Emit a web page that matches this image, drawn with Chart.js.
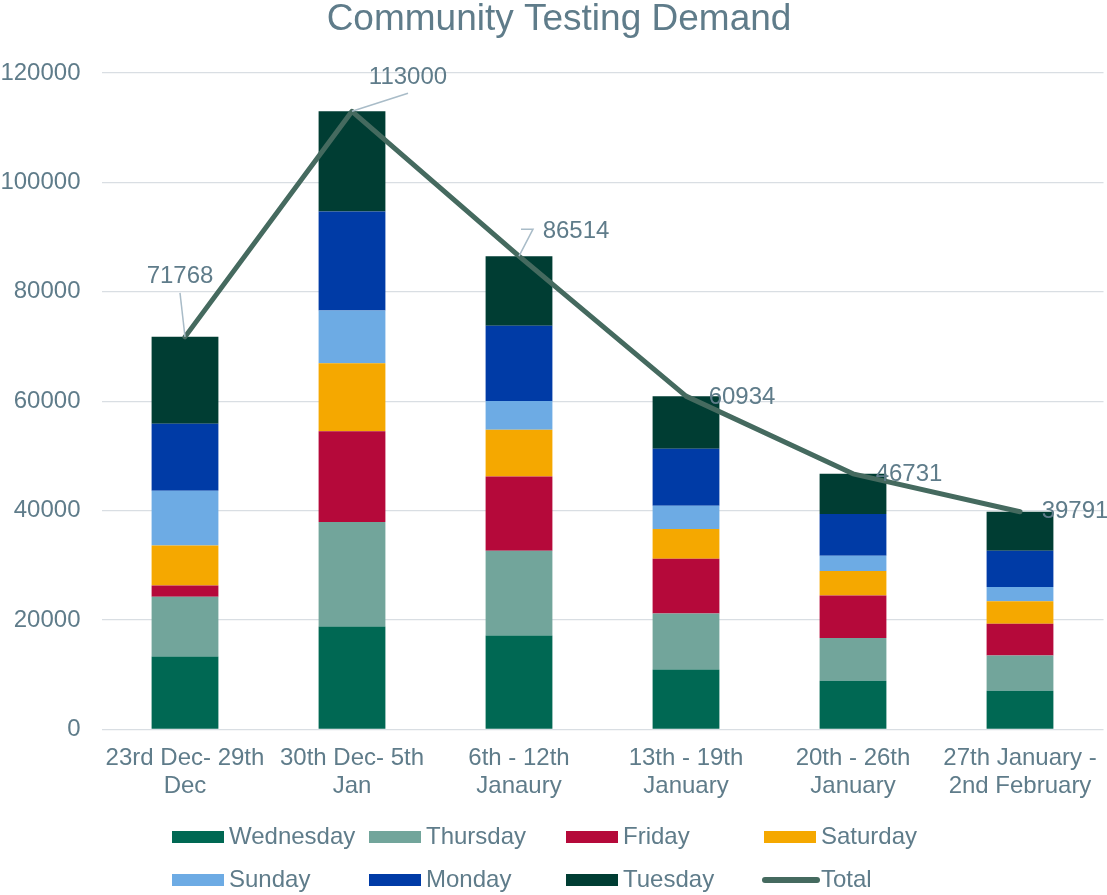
<!DOCTYPE html>
<html>
<head>
<meta charset="utf-8">
<script src="https://cdn.jsdelivr.net/npm/chart.js@4/dist/chart.umd.min.js"></script>
<style>
  html, body { margin: 0; padding: 0; background: #ffffff; }
  #wrap { width: 1107px; height: 895px; position: relative; }
</style>
</head>
<body>
<div id="wrap"><canvas id="c"></canvas></div>
<script>
// ---- data ----
const categories = [
  ["23rd Dec- 29th", "Dec"],
  ["30th Dec- 5th", "Jan"],
  ["6th - 12th", "Janaury"],
  ["13th - 19th", "January"],
  ["20th - 26th", "January"],
  ["27th January -", "2nd February"]
];
const wednesday = [13322, 18812, 17165, 10943, 8930, 7100];
const thursday  = [10925, 19106, 15501, 10248, 7815, 6405];
const friday    = [2068, 16579, 13596, 10011, 7740, 5802];
const saturday  = [7320, 12444, 8547, 5435, 4466, 4154];
const sunday    = [10011, 9645, 5252, 4264, 2800, 2562];
const monday    = [12261, 18117, 13725, 10431, 7631, 6643];
const tuesday   = [15861, 18297, 12728, 9602, 7349, 7125];
const total     = [71768, 113000, 86514, 60934, 46731, 39791];
const yTicks    = [0, 20000, 40000, 60000, 80000, 100000, 120000];
const chartTitle = "Community Testing Demand";

// ---- styles ----
const FONT = '"Liberation Sans", Arial, Helvetica, sans-serif';
const TEXT = '#5f7c8a';
const GRID = '#d9dee3';

const barSeries = [
  { label: 'Wednesday', data: wednesday, color: '#006853' },
  { label: 'Thursday',  data: thursday,  color: '#72a59b' },
  { label: 'Friday',    data: friday,    color: '#b5093a' },
  { label: 'Saturday',  data: saturday,  color: '#f5a800' },
  { label: 'Sunday',    data: sunday,    color: '#6dabe4' },
  { label: 'Monday',    data: monday,    color: '#003ba6' },
  { label: 'Tuesday',   data: tuesday,   color: '#003d33' }
];
const LINE_COLOR = '#456a5f';

const datasets = barSeries.map(s => ({
  type: 'bar',
  label: s.label,
  data: s.data,
  backgroundColor: s.color,
  borderWidth: 0,
  stack: 'days',
  order: 1,
  categoryPercentage: 0.8,
  barPercentage: 0.5
}));
datasets.push({
  type: 'line',
  label: 'Total',
  data: total,
  borderColor: LINE_COLOR,
  backgroundColor: LINE_COLOR,
  borderWidth: 5,
  pointRadius: 0,
  borderJoinStyle: 'round',
  borderCapStyle: 'round',
  stack: 'total',
  order: 0,
  tension: 0
});

// label placement relative to line points (style only)
const labelOffsets = [
  { dx: -5, dy: -60, leader: [[-5, -44]] },
  { dx: 56, dy: -34, leader: [[56, -18]] },
  { dx: 57, dy: -25, leader: [[14, -27], [2, -27]] },
  { dx: 56, dy: 1 },
  { dx: 56, dy: 1 },
  { dx: 55, dy: 0 }
];

const titlePlugin = {
  id: 'customTitle',
  afterDraw(chart) {
    const ctx = chart.ctx;
    ctx.save();
    ctx.font = '37px ' + FONT;
    ctx.fillStyle = TEXT;
    ctx.textAlign = 'center';
    ctx.textBaseline = 'middle';
    ctx.fillText(chartTitle, 559, 20);
    ctx.restore();
  }
};

const dataLabelPlugin = {
  id: 'totalLabels',
  afterDatasetsDraw(chart) {
    const idx = chart.data.datasets.findIndex(d => d.type === 'line');
    const meta = chart.getDatasetMeta(idx);
    const ctx = chart.ctx;
    ctx.save();
    meta.data.forEach((pt, i) => {
      const o = labelOffsets[i];
      if (o.leader) {
        ctx.beginPath();
        ctx.strokeStyle = '#a9bcc8';
        ctx.lineWidth = 1.5;
        ctx.moveTo(pt.x, pt.y);
        o.leader.forEach(p => ctx.lineTo(pt.x + p[0], pt.y + p[1]));
        ctx.stroke();
      }
      ctx.font = '24px ' + FONT;
      ctx.fillStyle = TEXT;
      ctx.textAlign = 'center';
      ctx.textBaseline = 'middle';
      ctx.fillText(String(chart.data.datasets[idx].data[i]), pt.x + o.dx, pt.y + o.dy);
    });
    ctx.restore();
  }
};

const legendPlugin = {
  id: 'gridLegend',
  afterDraw(chart) {
    const ctx = chart.ctx;
    const colX = [172, 369, 566, 764];
    const rowY = [837, 880];
    ctx.save();
    ctx.font = '24px ' + FONT;
    ctx.textBaseline = 'middle';
    ctx.textAlign = 'left';
    chart.data.datasets.forEach((ds, i) => {
      const x = colX[i % 4];
      const y = rowY[Math.floor(i / 4)];
      if (ds.type === 'line') {
        ctx.beginPath();
        ctx.strokeStyle = ds.borderColor;
        ctx.lineWidth = 6;
        ctx.lineCap = 'round';
        ctx.moveTo(x + 1, y);
        ctx.lineTo(x + 53, y);
        ctx.stroke();
      } else {
        ctx.fillStyle = ds.backgroundColor;
        ctx.fillRect(x, y - 6, 52, 12);
      }
      ctx.fillStyle = TEXT;
      ctx.fillText(ds.label, x + 57, y);
    });
    ctx.restore();
  }
};

new Chart(document.getElementById('c'), {
  data: { labels: categories, datasets },
  options: {
    responsive: true,
    maintainAspectRatio: false,
    animation: false,
    layout: { padding: { top: 73, left: 0, right: 3.5, bottom: 79.5 } },
    plugins: {
      legend: { display: false },
      title: { display: false },
      tooltip: { enabled: false }
    },
    scales: {
      x: {
        stacked: true,
        grid: { display: false, drawTicks: false },
        border: { display: false },
        afterFit(scale) { scale.paddingLeft = 0; scale.paddingRight = 0; },
        ticks: {
          color: TEXT,
          font: { family: FONT, size: 24, lineHeight: 1.167 },
          padding: 15,
          maxRotation: 0,
          autoSkip: false
        }
      },
      y: {
        stacked: true,
        min: 0,
        max: 120000,
        afterBuildTicks(scale) { scale.ticks = yTicks.map(v => ({ value: v })); },
        afterFit(scale) { scale.paddingTop = 0; scale.paddingBottom = 0; scale.width = 101.5; },
        grid: { color: GRID, lineWidth: 1.3, drawTicks: false },
        border: { display: false },
        ticks: {
          color: TEXT,
          font: { family: FONT, size: 24 },
          padding: 21,
          callback: v => String(v)
        }
      }
    }
  },
  plugins: [titlePlugin, dataLabelPlugin, legendPlugin]
});
</script>
</body>
</html>
